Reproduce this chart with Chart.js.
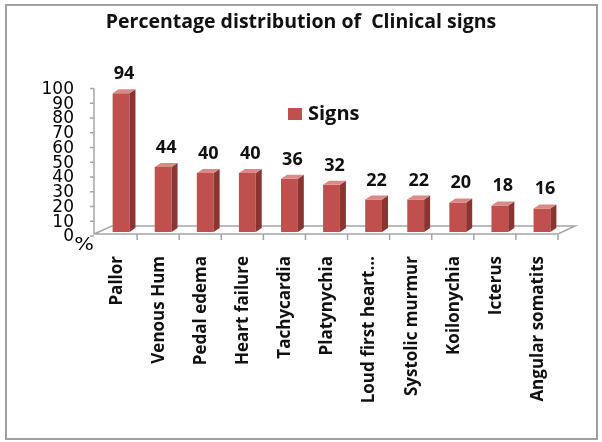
<!DOCTYPE html>
<html>
<head>
<meta charset="utf-8">
<script src="https://cdn.jsdelivr.net/npm/chart.js@4/dist/chart.umd.min.js"></script>
<style>
  html, body { margin: 0; padding: 0; background: #fff; }
  canvas { display: block; }
</style>
</head>
<body>
<canvas id="signs-chart" width="602" height="442"></canvas>
<script>
const signLabels = ["Pallor", "Venous Hum", "Pedal edema", "Heart failure", "Tachycardia", "Platynychia",
    "Loud first heart\u2026", "Systolic murmur", "Koilonychia", "Icterus", "Angular somatits"];
const signValues = [94, 44, 40, 40, 36, 32, 22, 22, 20, 18, 16];
const seriesName = "Signs";
const yTickMax = 100;
const yTickStep = 10;

const frontColor = "#c0504d";
const sideColor = "#8a3532";
const topColor = "#d98a87";
const depthX = 6, depthY = 4;

// frame, floor, y labels, 3d faces, value labels, legend
const excelLook = {
    id: "excelLook",
    beforeDraw(chart) {
        const ctx = chart.ctx;
        ctx.save();
        ctx.fillStyle = "#fff";
        ctx.fillRect(0, 0, chart.width, chart.height);
        ctx.strokeStyle = "#a0a0a0";
        ctx.lineWidth = 2;
        ctx.strokeRect(6, 5, 591, 434);
        ctx.restore();
    },
    beforeDatasetsDraw(chart) {
        const ctx = chart.ctx;
        const a = chart.chartArea;
        const x = chart.scales.x;
        const y = chart.scales.y;
        const fy = a.bottom + 2, by = a.bottom - 6;
        const fl = a.left - 6, fr = a.right - 5;
        ctx.save();
        ctx.strokeStyle = "#a6a6a6";
        ctx.lineWidth = 1.5;
        ctx.beginPath();
        ctx.moveTo(fl, y.getPixelForValue(yTickMax) + 4);
        ctx.lineTo(fl, fy);
        ctx.lineTo(fr, fy);
        ctx.lineTo(a.right + 12, by);
        ctx.lineTo(a.left + 12, by);
        ctx.lineTo(fl, fy);
        ctx.stroke();
        // category ticks on the front edge
        const half = (x.getPixelForValue(1) - x.getPixelForValue(0)) / 2;
        ctx.beginPath();
        for (let i = 0; i < signLabels.length; i++) {
            const tx = x.getPixelForValue(i) + half - 5;
            ctx.moveTo(tx, fy);
            ctx.lineTo(tx, fy + 6);
        }
        // value ticks on the y axis line
        y.ticks.forEach(function (t) {
            const ty = y.getPixelForValue(t.value) + 4;
            ctx.moveTo(fl - 4, ty);
            ctx.lineTo(fl, ty);
        });
        ctx.stroke();
        ctx.fillStyle = "#000";
        ctx.font = "17px 'DejaVu Sans'";
        ctx.textAlign = "right";
        ctx.textBaseline = "middle";
        y.ticks.forEach(function (t) {
            ctx.fillText(t.label, fl - 20, y.getPixelForValue(t.value) + 5);
        });
        ctx.save();
        ctx.font = "18px 'DejaVu Sans'";
        ctx.translate(a.left - 16, a.bottom + 13);
        ctx.scale(1.15, 1);
        ctx.textAlign = "center";
        ctx.fillText("%", 0, 0);
        ctx.restore();
        ctx.restore();
    },
    afterDatasetsDraw(chart) {
        const ctx = chart.ctx;
        const meta = chart.getDatasetMeta(0);
        ctx.save();
        meta.data.forEach(function (bar, i) {
            const p = bar.getProps(["x", "y", "width", "base"], true);
            const l = p.x - p.width / 2, r = p.x + p.width / 2;
            ctx.fillStyle = sideColor;
            ctx.beginPath();
            ctx.moveTo(r, p.y);
            ctx.lineTo(r + depthX, p.y - depthY);
            ctx.lineTo(r + depthX, p.base - depthY);
            ctx.lineTo(r, p.base);
            ctx.closePath();
            ctx.fill();
            ctx.fillStyle = topColor;
            ctx.beginPath();
            ctx.moveTo(l, p.y);
            ctx.lineTo(r, p.y);
            ctx.lineTo(r + depthX, p.y - depthY);
            ctx.lineTo(l + depthX, p.y - depthY);
            ctx.closePath();
            ctx.fill();
            ctx.fillStyle = "#111";
            ctx.font = "bold 18px 'Open Sans'";
            ctx.textAlign = "center";
            ctx.textBaseline = "alphabetic";
            ctx.fillText(String(signValues[i]), p.x + depthX / 2, p.y - depthY - 10);
        });
        // legend
        ctx.fillStyle = frontColor;
        ctx.fillRect(288, 108, 14, 12);
        ctx.fillStyle = "#111";
        ctx.font = "bold 20px 'Open Sans'";
        ctx.textAlign = "left";
        ctx.textBaseline = "middle";
        ctx.fillText(seriesName, 308, 114);
        ctx.restore();
    }
};

new Chart(document.getElementById("signs-chart").getContext("2d"), {
    type: "bar",
    data: {
        labels: signLabels,
        datasets: [{
            label: seriesName,
            data: signValues,
            backgroundColor: frontColor,
            borderWidth: 0,
            categoryPercentage: 1,
            barPercentage: 0.4
        }]
    },
    options: {
        responsive: false,
        animation: false,
        devicePixelRatio: 1,
        layout: { padding: 0 },
        plugins: {
            legend: { display: false },
            tooltip: { enabled: false },
            title: {
                display: true,
                text: "Percentage distribution of  Clinical signs",
                color: "#111",
                font: { family: "'Open Sans'", size: 19.5, weight: "bold" },
                padding: { top: 11, bottom: 50 }
            }
        },
        scales: {
            x: {
                grid: { display: false },
                border: { display: false },
                ticks: {
                    color: "#111",
                    font: { family: "'Open Sans'", size: 17, weight: "bold" },
                    minRotation: 90,
                    maxRotation: 90,
                    autoSkip: false,
                    padding: 16,
                    labelOffset: -4
                },
                afterFit(scale) { scale.height = 210; }
            },
            y: {
                min: 0,
                max: yTickMax,
                grid: { display: false },
                border: { display: false },
                ticks: { display: false, stepSize: yTickStep },
                afterFit(scale) { scale.width = 100; }
            },
            // empty right gutter so the title centres on the whole frame
            gutter: {
                position: "right",
                min: 0,
                max: yTickMax,
                grid: { display: false },
                border: { display: false },
                ticks: { display: false },
                afterFit(scale) { scale.width = 39; }
            }
        }
    },
    plugins: [excelLook]
});
</script>
</body>
</html>
